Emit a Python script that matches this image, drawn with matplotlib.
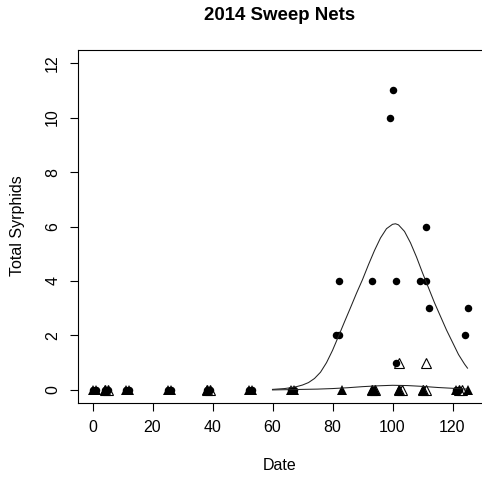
import matplotlib
matplotlib.use("Agg")
import matplotlib.pyplot as plt

plt.rcParams['font.family'] = ['Liberation Sans', 'DejaVu Sans']

# Species A counts (filled circles)
circle_date = [0, 1, 4, 5, 11, 12, 25, 26, 38, 39, 52, 53, 66, 67,
               81, 82, 82, 93, 99, 100, 101, 101, 109, 111, 111, 112,
               121, 122, 124, 125]
circle_count = [0, 0, 0, 0, 0, 0, 0, 0, 0, 0, 0, 0, 0, 0,
                2, 2, 4, 4, 10, 11, 4, 1, 4, 6, 4, 3,
                0, 0, 2, 3]

# Species B counts (filled triangles)
ftri_date = [0, 1, 4, 11, 12, 25, 26, 38, 52, 53, 66, 67, 83, 93, 94,
             102, 110, 121, 125]
ftri_count = [0] * len(ftri_date)

# Species C counts (open triangles)
otri_date = [4, 5, 38, 39, 93, 94, 102, 103, 110, 111, 122, 123, 102, 111]
otri_count = [0, 0, 0, 0, 0, 0, 0, 0, 0, 0, 0, 0, 1, 1]

# Fitted trend for species A
fitA_date = [60, 64, 66, 68, 70, 72, 74, 76, 78, 80, 82, 84, 86, 88, 90,
             92, 94, 96, 98, 100, 101, 102, 104, 106, 108, 110, 112, 114,
             116, 118, 120, 122, 124, 125]
fitA_val = [0.02, 0.05, 0.08, 0.12, 0.18, 0.27, 0.42, 0.65, 1.0, 1.45,
            1.97, 2.5, 3.02, 3.55, 4.05, 4.6, 5.12, 5.58, 5.92, 6.08, 6.1,
            6.06, 5.82, 5.4, 4.88, 4.3, 3.75, 3.2, 2.7, 2.2, 1.75, 1.3,
            0.95, 0.8]

# Fitted trend for species B/C
fitB_date = [60, 65, 70, 75, 80, 85, 90, 95, 100, 105, 110, 115, 120, 125]
fitB_val = [0.0, 0.01, 0.02, 0.03, 0.05, 0.08, 0.12, 0.15, 0.17, 0.16,
            0.13, 0.09, 0.06, 0.03]

x_ticks = [0, 20, 40, 60, 80, 100, 120]
y_ticks = [0, 2, 4, 6, 8, 10, 12]

W, H = 482, 478
fig = plt.figure(figsize=(W / 100, H / 100), dpi=100)
ax = fig.add_axes([77.5 / W, (H - 403) / H, 405 / W, 353 / H])

ax.plot(circle_date, circle_count, 'o', color='black', ms=5.4, mew=0)
ax.plot(ftri_date, ftri_count, '^', color='black', ms=7, mew=0)
ax.plot(otri_date, otri_count, '^', mfc='none', mec='black', ms=6.5, mew=0.8)

ax.plot(fitA_date, fitA_val, '-', color='#222222', lw=0.75)
ax.plot(fitB_date, fitB_val, '-', color='#222222', lw=0.75)

ax.set_xlim(-5, 130)
ax.set_ylim(-0.48, 12.48)
ax.set_xticks(x_ticks)
ax.set_yticks(y_ticks)
ax.set_xticklabels([str(v) for v in x_ticks])
ax.set_yticklabels([str(v) for v in y_ticks], rotation=90, va='center')

for s in ax.spines.values():
    s.set_linewidth(0.8)
    s.set_color('black')
ax.spines['right'].set_visible(False)

ax.tick_params(axis='both', direction='out', length=5.5, width=0.8,
               labelsize=11.5, colors='black')
ax.tick_params(axis='x', pad=7)
ax.tick_params(axis='y', pad=7)

fig.text(279.5 / W, 1 - 15 / H, '2014 Sweep Nets', ha='center', va='center',
         fontsize=13.4, fontweight='bold')
fig.text(279.5 / W, 1 - 465 / H, 'Date', ha='center', va='center',
         fontsize=11.5)
fig.text(18 / W, 1 - 226 / H, 'Total Syrphids', ha='center', va='center',
         rotation=90, fontsize=11.5)

fig.savefig('out.png', dpi=100)
